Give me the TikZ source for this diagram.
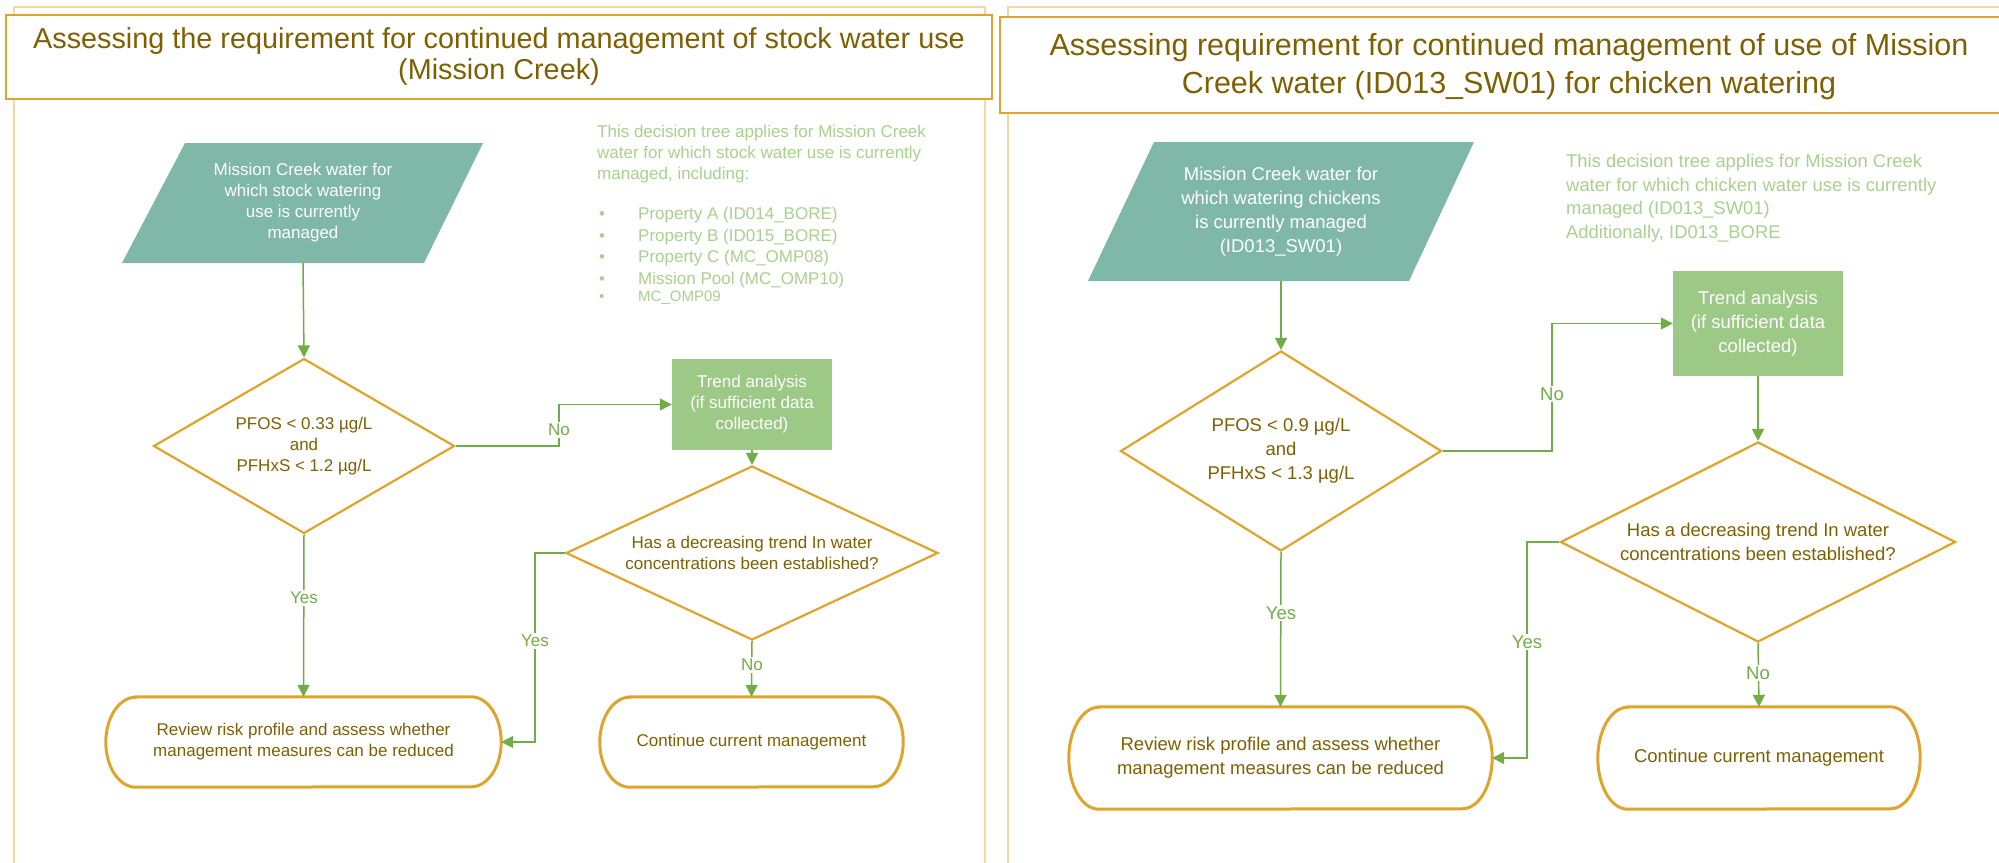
\documentclass[tikz,border=0pt]{standalone}
\usepackage{fontspec}
\setmainfont{Liberation Sans}
\usetikzlibrary{arrows.meta,shapes.geometric,calc}
\definecolor{gold}{HTML}{DFA52A}
\definecolor{framegold}{HTML}{F2D9A2}
\definecolor{titletext}{HTML}{7F6000}
\definecolor{bodytext}{HTML}{7F6000}
\definecolor{tealfill}{HTML}{7FB8A8}
\definecolor{trendfill}{HTML}{9CC986}
\definecolor{linegreen}{HTML}{70AD47}
\definecolor{descgreen}{HTML}{A9D18E}
\newcommand\termoutline[3]{\draw[termline] ([xshift=#2]#1.north west) -- ([xshift=-#2]#1.north east) arc[start angle=90,end angle=-90,x radius=#2,y radius=#3] -- ([xshift=#2]#1.south west) arc[start angle=270,end angle=90,x radius=#2,y radius=#3] -- cycle;}
\newcommand\bul{\makebox[39pt][l]{\textbullet}}
\begin{document}
\begin{tikzpicture}[x=1pt,y=-1pt,
  conn/.style={draw=linegreen,line width=1.5pt},
  arr/.style={conn,-{Triangle[length=12pt,width=12pt]}},
  dia/.style={shape=diamond,draw=gold,line width=2.2pt,inner sep=0pt,text=bodytext,align=center},
  trend/.style={fill=trendfill,text=white,align=center,inner sep=0pt},
  term/.style={text=bodytext,align=center,inner sep=0pt},
  termline/.style={draw=gold,line width=3pt},
  lab/.style={fill=white,text=linegreen,inner sep=2pt},
  inp/.style={text=white,align=center,inner sep=0pt},
  titlebox/.style={draw=gold,line width=2.5pt,fill=white},
  panelframe/.style={draw=framegold,line width=1.5pt},
  desc/.style={text=descgreen,align=left,inner sep=0pt,anchor=north west},
  fL/.style={font=\fontsize{17}{21}\selectfont},
  fR/.style={font=\fontsize{18.5}{24}\selectfont},
]
\clip (0,0) rectangle (1999,862);
\fill[white] (0,0) rectangle (1999,862);

% panel frames
\draw[panelframe] (14,900) -- (14,7) -- (985,7) -- (985,900);
\draw[panelframe] (1008,900) -- (1008,7) -- (2010,7);

% titles
\draw[titlebox] (6,15) rectangle (992,99);
\node[text=titletext,align=center,font=\fontsize{28.8}{31}\selectfont] (T1) at (499,57)
  {Assessing the requirement for continued management of stock water use\\(Mission Creek)};
\draw[titlebox] (1000,17) rectangle (2012,113);
\node[text=titletext,align=center,font=\fontsize{30.5}{38}\selectfont] (T2) at (1509,67)
  {Assessing requirement for continued management of use of Mission\\Creek water (ID013\_SW01) for chicken watering};

% ---------------- LEFT PANEL ----------------
\fill[tealfill] (185,143) -- (483,143) -- (424,263) -- (122,263) -- cycle;
\node[inp,fL,minimum height=120pt] (p1) at (303,203)
  {Mission Creek water for\\which stock watering\\use is currently\\managed};
\node[dia,fL,shape aspect=1.72,minimum width=301pt,minimum height=175pt] (d1) at (304,446)
  {PFOS < 0.33 µg/L\\and\\PFHxS < 1.2 µg/L};
\node[trend,fL,minimum width=160pt,minimum height=91pt] (t1) at (752,404.5)
  {Trend analysis\\(if sufficient data\\collected)};
\node[dia,fL,shape aspect=2.14,minimum width=372pt,minimum height=174pt] (d2) at (752,553)
  {Has a decreasing trend In water\\concentrations been established?};
\node[term,fL,minimum width=395pt,minimum height=90pt] (r1) at (303.5,742)
  {Review risk profile and assess whether\\management measures can be reduced};
\node[term,fL,minimum width=303pt,minimum height=90pt] (c1) at (751.5,742)
  {Continue current management};
\termoutline{r1}{30pt}{45pt}
\termoutline{c1}{30pt}{45pt}

\node[desc,fL] (desc1) at (597,125)
  {This decision tree applies for Mission Creek\\water for which stock water use is currently\\managed, including:};
\node[desc,font=\fontsize{17}{21.5}\selectfont] (list1) at (599,207)
  {\bul Property A (ID014\_BORE)\\\bul Property B (ID015\_BORE)\\\bul Property C (MC\_OMP08)\\\bul Mission Pool (MC\_OMP10)\\[-4pt]{\fontsize{15}{17}\selectfont\bul MC\_OMP09}};

\coordinate (n1) at (559,446);
\coordinate (y1) at (535,553);
\draw[arr] (p1.south) -- (d1.north);
\draw[arr] (d1.east) -- (n1) |- (t1.west);
\draw[arr] (t1.south) -- (d2.north);
\draw[arr] (d2.west) -- (y1) |- (r1.east);
\draw[arr] (d1.south) -- (r1.north);
\draw[arr] (d2.south) -- (c1.north);
\node[lab,fL] (l1) at (559,430) {No};
\node[lab,fL] (l2) at (535,641) {Yes};
\node[lab,fL] (l3) at (304,598) {Yes};
\node[lab,fL] (l4) at (752,665) {No};

% ---------------- RIGHT PANEL ----------------
\fill[tealfill] (1154,142) -- (1474,142) -- (1409,281) -- (1088,281) -- cycle;
\node[inp,fR,minimum height=139pt] (p2) at (1281,211.5)
  {Mission Creek water for\\which watering chickens\\is currently managed\\(ID013\_SW01)};
\node[dia,fR,shape aspect=1.6,minimum width=321pt,minimum height=200pt] (d3) at (1281,451)
  {PFOS < 0.9 µg/L\\and\\PFHxS < 1.3 µg/L};
\node[trend,fR,minimum width=170pt,minimum height=105pt] (t2) at (1758,323.5)
  {Trend analysis\\(if sufficient data\\collected)};
\node[dia,fR,shape aspect=1.98,minimum width=395pt,minimum height=200pt] (d4) at (1758,542)
  {Has a decreasing trend In water\\concentrations been established?};
\node[term,fR,minimum width=423pt,minimum height=102pt] (r2) at (1280.5,758)
  {Review risk profile and assess whether\\management measures can be reduced};
\node[term,fR,minimum width=322pt,minimum height=102pt] (c2) at (1759,758)
  {Continue current management};
\termoutline{r2}{30pt}{51pt}
\termoutline{c2}{30pt}{51pt}

\node[desc,font=\fontsize{18.4}{23.5}\selectfont] (desc2) at (1566,154)
  {This decision tree applies for Mission Creek\\water for which chicken water use is currently\\managed (ID013\_SW01)\\Additionally, ID013\_BORE};

\coordinate (n2) at (1552,451);
\coordinate (y2) at (1527,542);
\draw[arr] (p2.south) -- (d3.north);
\draw[arr] (d3.east) -- (n2) |- (t2.west);
\draw[arr] (t2.south) -- (d4.north);
\draw[arr] (d4.west) -- (y2) |- (r2.east);
\draw[arr] (d3.south) -- (r2.north);
\draw[arr] (d4.south) -- (c2.north);
\node[lab,fR] (l5) at (1552,394) {No};
\node[lab,fR] (l6) at (1527,642) {Yes};
\node[lab,fR] (l7) at (1281,613) {Yes};
\node[lab,fR] (l8) at (1758,673) {No};
\end{tikzpicture}
\end{document}
